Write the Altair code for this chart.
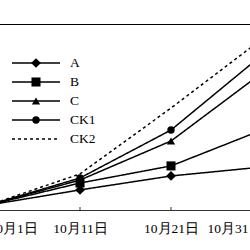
import altair as alt
import pandas as pd

# ---- data ----
series = ["A", "B", "C", "CK1", "CK2"]
days = [1, 11, 21, 31]
day_labels = ["10月1日", "10月11日", "10月21日", "10月31日"]
vals_A = [2.7, 10.8, 18.3, 23.1]
vals_B = [2.7, 14.5, 23.7, 43.0]
vals_C = [2.7, 16.1, 37.1, 73.7]
vals_CK1 = [2.7, 17.2, 43.0, 83.3]
vals_CK2 = [2.7, 19.4, 54.8, 91.9]

all_vals = {"A": vals_A, "B": vals_B, "C": vals_C, "CK1": vals_CK1, "CK2": vals_CK2}
rows = []
for s in series:
    for d, v in zip(days, all_vals[s]):
        rows.append({"series": s, "day": d, "value": v})
df = pd.DataFrame(rows)
df_pts = df[df["series"] != "CK2"]
df_leg = pd.DataFrame({"series": series})
df_leg_pts = df_leg[df_leg["series"] != "CK2"]
df_ticks = pd.DataFrame({"day": days})

label_expr = " : ".join([f"datum.value == {d} ? '{l}'" for d, l in zip(days, day_labels)]) + " : ''"

dash_scale = alt.Scale(domain=series, range=[[1, 0], [1, 0], [1, 0], [1, 0], [3, 3]])
width_scale = alt.Scale(domain=series, range=[1.5, 1.5, 1.5, 1.5, 1])
shape_scale = alt.Scale(domain=series[:4], range=["diamond", "square", "triangle-up", "circle"])
size_scale = alt.Scale(domain=series[:4], range=[95, 55, 75, 95])

xenc = alt.X("day:Q", scale=alt.Scale(domain=[1, 31], nice=False, zero=False),
             axis=alt.Axis(values=days, labelExpr=label_expr, title=None, grid=False,
                           ticks=False, domainColor="#333", domainWidth=1,
                           labelFont="Liberation Serif", labelFontSize=13.5, labelColor="black",
                           labelPadding=11))
yenc = alt.Y("value:Q", scale=alt.Scale(domain=[0, 100], nice=False, zero=False), axis=None)

lines = alt.Chart(df).mark_line(color="black").encode(
    x=xenc, y=yenc,
    strokeDash=alt.StrokeDash("series:N", scale=dash_scale, legend=None),
    strokeWidth=alt.StrokeWidth("series:N", scale=width_scale, legend=None),
    detail="series:N",
)
points = alt.Chart(df_pts).mark_point(filled=True, color="black", opacity=1).encode(
    x="day:Q", y="value:Q",
    shape=alt.Shape("series:N", scale=shape_scale, legend=None),
    size=alt.Size("series:N", scale=size_scale, legend=None),
)
ticks = alt.Chart(df_ticks).mark_rule(color="#333", strokeWidth=1).encode(
    x="day:Q", y=alt.value(183), y2=alt.value(186)
)

leg_y = alt.Y("series:N", scale=alt.Scale(type="point", domain=series, range=[39, 115], padding=0), axis=None)
leg_lines = alt.Chart(df_leg).mark_rule(color="black").encode(
    y=leg_y, x=alt.value(23), x2=alt.value(71),
    strokeDash=alt.StrokeDash("series:N", scale=dash_scale, legend=None),
    strokeWidth=alt.StrokeWidth("series:N", scale=width_scale, legend=None),
)
leg_pts = alt.Chart(df_leg_pts).mark_point(filled=True, color="black", opacity=1).encode(
    y=leg_y, x=alt.value(47),
    shape=alt.Shape("series:N", scale=shape_scale, legend=None),
    size=alt.Size("series:N", scale=size_scale, legend=None),
)
leg_text = alt.Chart(df_leg).mark_text(align="left", baseline="middle", font="Liberation Serif",
                                       fontSize=13.5, color="black").encode(
    y=leg_y, x=alt.value(81), text="series:N"
)

main = alt.layer(lines, points, ticks)
legend = alt.layer(leg_lines, leg_pts, leg_text)

chart = alt.layer(main, legend).resolve_scale(y="independent").properties(
    width=273, height=186,
    autosize=alt.AutoSizeParams(type="none"),
    padding={"left": -11, "top": 24, "right": -12, "bottom": 40},
    background="white",
).configure_view(stroke="black", strokeWidth=1)

chart.save("out.html", embed_options={"renderer": "svg", "actions": False})
